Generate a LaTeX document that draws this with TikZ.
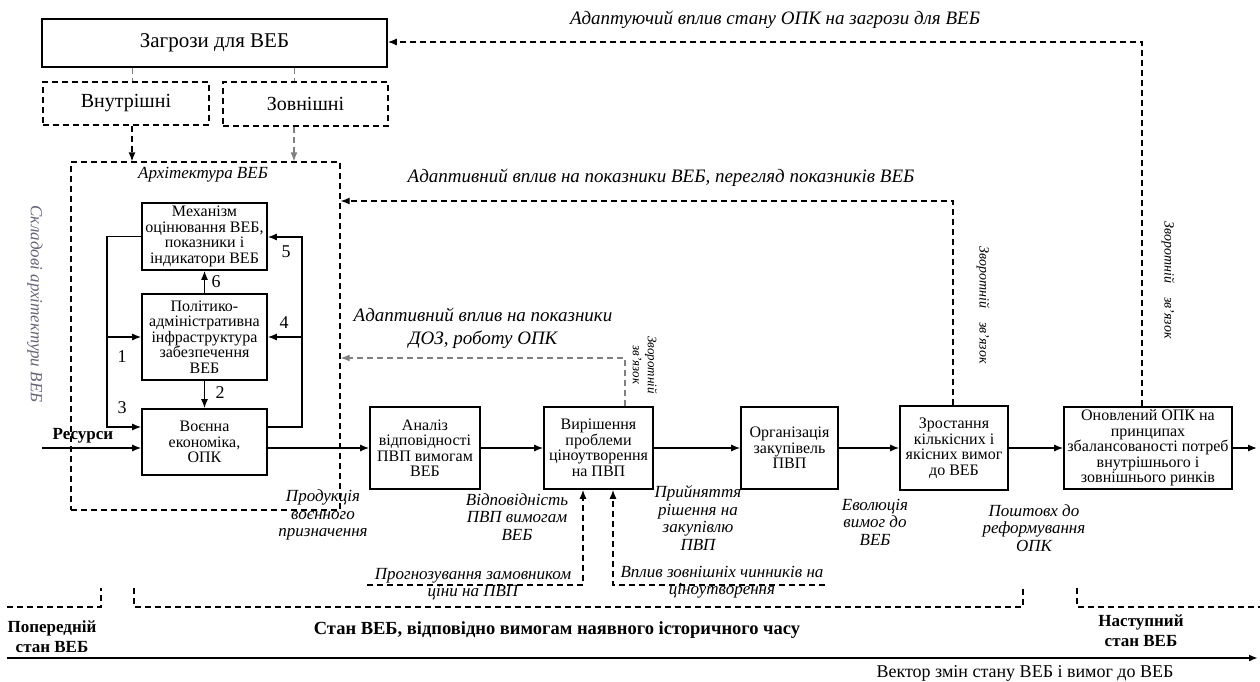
\documentclass[tikz,border=0pt]{standalone}
\usepackage{fontspec}
\setmainfont{Liberation Serif}
\usetikzlibrary{arrows.meta}
\definecolor{faint}{RGB}{100,100,120}

\begin{document}
\begin{tikzpicture}[x=1pt,y=-1pt,line width=1.3pt,
    box/.style={draw,line width=1.6pt,align=center,inner sep=0pt,font=\fontsize{16}{15.5}\selectfont},
    dbox/.style={draw,line width=1.3pt,dash pattern=on 6pt off 4pt,font=\fontsize{20}{20}\selectfont},
    lbl/.style={align=center,inner sep=0pt,font=\fontsize{17}{17.5}\selectfont\itshape},
    bld/.style={align=center,inner sep=0pt,font=\fontsize{17}{20}\selectfont\bfseries},
    num/.style={inner sep=0pt,font=\fontsize{18}{18}\selectfont},
    fb/.style={dash pattern=on 6pt off 4pt,line width=1.3pt},
    tip/.style={-{Latex[length=9pt,width=7pt]}}]
    \useasboundingbox (0,0) rectangle (1260,682);

    % threats
    \node[box,minimum width=345,minimum height=48,font=\fontsize{21}{21}\selectfont] (threat) at (214.5,43) {Загрози для ВЕБ};
    \node[dbox,minimum width=166,minimum height=43] (inner) at (126,103.5) {Внутрішні};
    \node[dbox,minimum width=165,minimum height=44] (outer) at (305.5,104) {Зовнішні};
    \node[draw,fb,minimum width=269,minimum height=348] (arch) at (205.5,336) {};
    \node[lbl] (archlbl) at (203,175) {Архітектура ВЕБ};
    \node[lbl,rotate=-90,text=faint] (archside) at (35,304) {Складові архітектури ВЕБ};
    \coordinate (ti) at (132,0);
    \coordinate (to) at (294,0);
    \draw[fb,gray,line width=1pt] (threat.south -| ti) -- (inner.north -| ti);
    \draw[fb,gray,line width=1pt] (threat.south -| to) -- (outer.north -| to);
    \draw[fb,tip] (inner.south -| ti) -- (arch.north -| ti);
    \draw[fb,tip,gray] (outer.south -| to) -- (arch.north -| to);

    % architecture
    \node[box,minimum width=125,minimum height=67] (mech) at (204.5,236.5) {Механізм\\оцінювання ВЕБ,\\показники і\\індикатори ВЕБ};
    \node[box,minimum width=125,minimum height=86] (pol) at (204.5,337) {Політико-\\адміністративна\\інфраструктура\\забезпечення\\ВЕБ};
    \node[box,minimum width=125,minimum height=66] (econ) at (204.5,442) {Воєнна\\економіка,\\ОПК};
    \draw[tip] (pol.north) -- (mech.south);
    \draw[tip] (pol.south) -- (econ.north);
    \coordinate (l1) at (107,236.5);
    \coordinate (l2) at (107,427);
    \coordinate (r1) at (302,427);
    \coordinate (r2) at (302,237);
    \draw[tip] (mech.west) -- (l1) -- (l2) -- (econ.west |- l2);
    \draw[tip] (l1 |- pol) -- (pol.west);
    \draw[tip] (econ.east |- r1) -- (r1) -- (r2) -- (mech.east |- r2);
    \draw[tip] (r1 |- pol) -- (pol.east);
    \node[num] (n1) at (122,357) {1};
    \node[num] (n2) at (220,393) {2};
    \node[num] (n3) at (122,408) {3};
    \node[num] (n4) at (284,323) {4};
    \node[num] (n5) at (286,252) {5};
    \node[num] (n6) at (216,282) {6};
    \coordinate (res) at (42,448);
    \draw[tip] (res) -- (econ.west |- res);
    \node[bld] (reslbl) at (83,436) {Ресурси};

    % chain
    \node[box,minimum width=110,minimum height=82] (anal) at (425,448) {Аналіз\\відповідності\\ПВП вимогам\\ВЕБ};
    \node[box,minimum width=109,minimum height=82] (price) at (598.5,448) {Вирішення\\проблеми\\ціноутворення\\на ПВП};
    \node[box,minimum width=97,minimum height=82] (proc) at (789.5,448) {Організація\\закупівель\\ПВП};
    \node[box,minimum width=108,minimum height=84] (grow) at (954,448) {Зростання\\кількісних і\\якісних вимог\\до ВЕБ};
    \node[box,minimum width=168,minimum height=82] (upd) at (1148,448) {Оновлений ОПК на\\принципах\\збалансованості потреб\\внутрішнього і\\зовнішнього ринків};
    \coordinate (out) at (1257,448);
    \draw[tip] (econ.east |- anal) -- (anal);
    \draw[tip] (anal) -- (price);
    \draw[tip] (price) -- (proc);
    \draw[tip] (proc) -- (grow);
    \draw[tip] (grow) -- (upd);
    \draw[tip] (upd) -- (out);

    % feedback
    \coordinate (f1) at (1142,42);
    \coordinate (f2) at (953,201);
    \coordinate (f3) at (625,358);
    \draw[fb,tip] (f1 |- upd.north) -- (f1) -- (threat.east |- f1);
    \draw[fb,tip] (f2 |- grow.north) -- (f2) -- (arch.east |- f2);
    \draw[fb,tip,gray] (f3 |- price.north) -- (f3) -- (arch.east |- f3);
    \node[lbl,font=\fontsize{19}{19}\selectfont\itshape] (t1) at (775,20) {Адаптуючий вплив стану ОПК на загрози для ВЕБ};
    \node[lbl,font=\fontsize{19}{19}\selectfont\itshape] (t2) at (661,178) {Адаптивний вплив на показники ВЕБ, перегляд показників ВЕБ};
    \node[lbl,font=\fontsize{19}{23}\selectfont\itshape] (t3) at (483,328) {Адаптивний вплив на показники\\ДОЗ, роботу ОПК};
    \node[lbl,rotate=-90,font=\fontsize{14}{14}\selectfont\itshape] (z1) at (1168,280) {Зворотній\quad зв’язок};
    \node[lbl,rotate=-90,font=\fontsize{14}{14}\selectfont\itshape] (z2) at (983,305) {Зворотній\quad зв’язок};
    \node[lbl,rotate=-90,font=\fontsize{13}{15}\selectfont\itshape] (z3) at (645,365) {Зворотній\\зв’язок};

    % inputs to pricing
    \coordinate (p1) at (367,585);
    \coordinate (p2) at (583,585);
    \coordinate (q1) at (825,585);
    \coordinate (q2) at (613,585);
    \draw[fb,tip] (p1) -- (p2) -- (p2 |- price.south);
    \draw[fb,tip] (q1) -- (q2) -- (q2 |- price.south);
    \node[lbl] (t4) at (473,584) {Прогнозування замовником\\ціни на ПВП};
    \node[lbl] (t5) at (722,582) {Вплив зовнішніх чинників на\\ціноутворення};

    % outputs
    \node[lbl] (o1) at (323,515) {Продукція\\воєнного\\призначення};
    \node[lbl] (o2) at (517,517) {Відповідність\\ПВП вимогам\\ВЕБ};
    \node[lbl] (o3) at (698,518) {Прийняття\\рішення на\\закупівлю\\ПВП};
    \node[lbl] (o4) at (875,522) {Еволюція\\вимог до\\ВЕБ};
    \node[lbl] (o5) at (1034,528) {Поштовх до\\реформування\\ОПК};

    % states
    \draw[fb] (7,607) -- (101,607) -- (101,588);
    \draw[fb] (134,588) -- (134,607) -- (1023,607) -- (1023,588);
    \draw[fb] (1077,588) -- (1077,607) -- (1260,607);
    \node[bld] (s1) at (52,637) {Попередній\\стан ВЕБ};
    \node[bld,font=\fontsize{18.5}{20}\selectfont\bfseries] (s2) at (557,630) {Стан ВЕБ, відповідно вимогам наявного історичного часу};
    \node[bld] (s3) at (1141,631) {Наступний\\стан ВЕБ};
    \coordinate (v0) at (7,658);
    \coordinate (v1) at (1258,658);
    \draw[line width=2.2pt,tip] (v0) -- (v1);
    \node[inner sep=0pt,font=\fontsize{18}{18}\selectfont] (vec) at (1025,673) {Вектор змін стану ВЕБ і вимог до ВЕБ};
\end{tikzpicture}
\end{document}
